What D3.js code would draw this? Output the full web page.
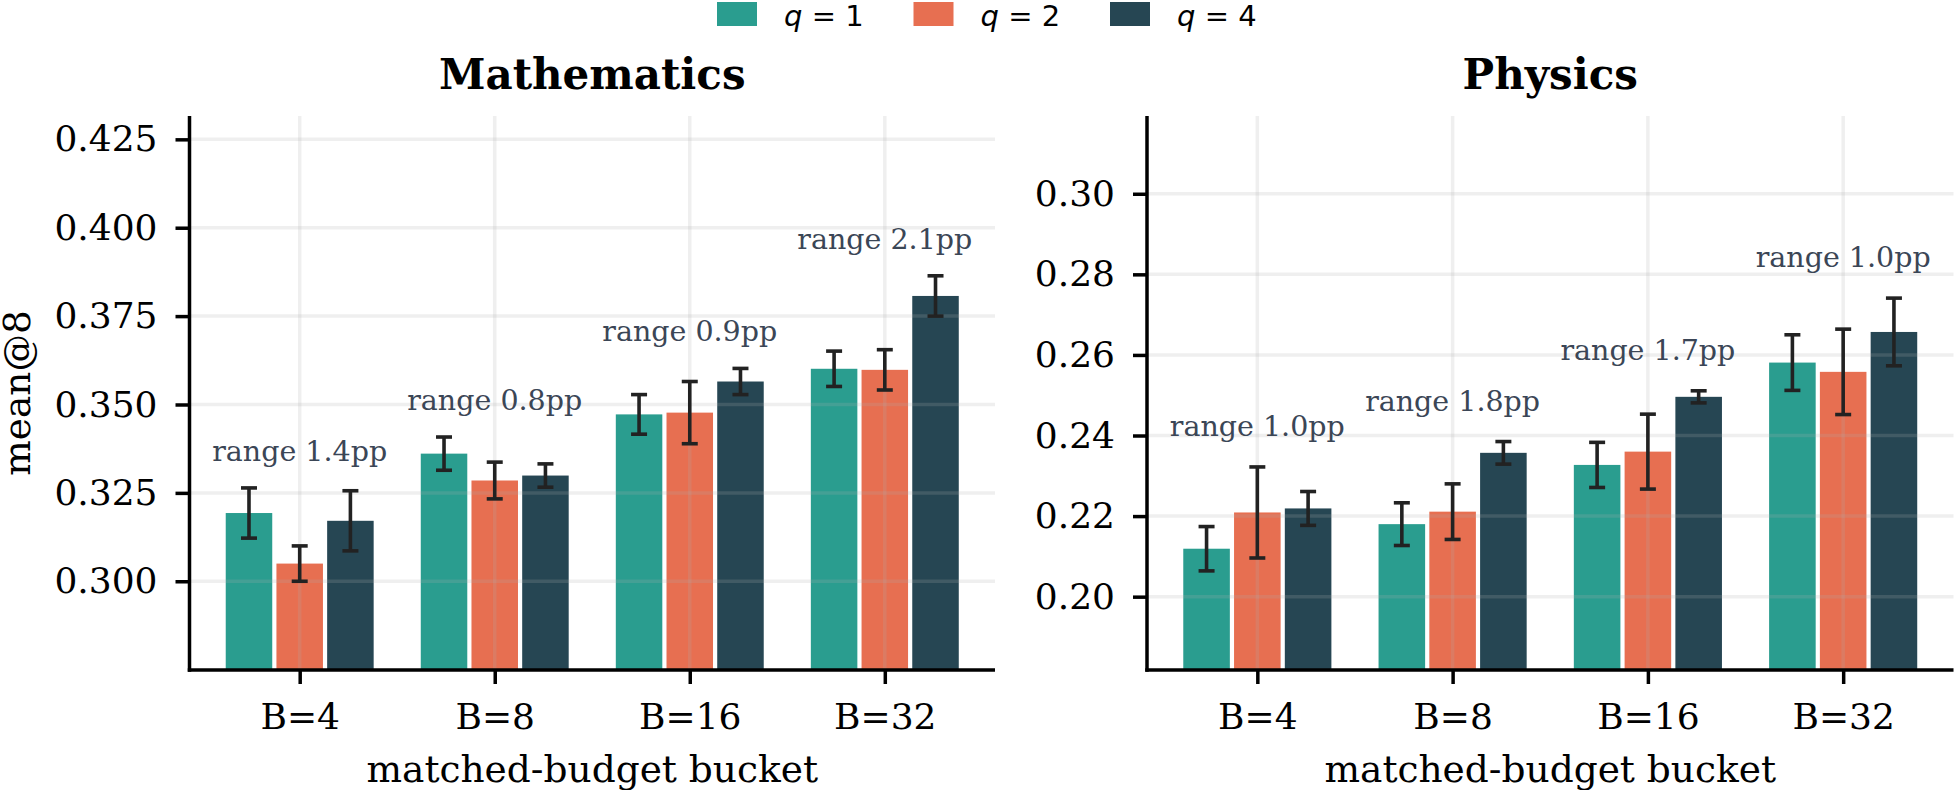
<!DOCTYPE html>
<html>
<head>
<meta charset="utf-8">
<script src="https://cdn.jsdelivr.net/npm/d3@7"></script>
<style>
  html, body { margin: 0; padding: 0; background: #ffffff; }
  svg { display: block; }
</style>
</head>
<body>
<svg id="chart" width="1955" height="790"></svg>
<script>
// ---------------- DATA ----------------
const categories = ["B=4", "B=8", "B=16", "B=32"];
const seriesKeys = ["1", "2", "4"];            // q values
const seriesColors = ["#2a9d8f", "#e76f51", "#264653"];

// Mathematics: mean@8 per q, and error half-widths
const mathQ1 = [0.3193, 0.3361, 0.3472, 0.3601];
const mathQ2 = [0.3050, 0.3285, 0.3477, 0.3598];
const mathQ4 = [0.3171, 0.3299, 0.3565, 0.3807];
const mathErrQ1 = [0.0071, 0.0047, 0.0056, 0.0050];
const mathErrQ2 = [0.0050, 0.0052, 0.0088, 0.0057];
const mathErrQ4 = [0.0085, 0.0033, 0.0037, 0.0057];
const mathRangeLabels = ["range 1.4pp", "range 0.8pp", "range 0.9pp", "range 2.1pp"];
const mathTicks = [0.300, 0.325, 0.350, 0.375, 0.400, 0.425];
const mathYDomain = [0.2749, 0.4316];

// Physics
const physQ1 = [0.2119, 0.2180, 0.2327, 0.2581];
const physQ2 = [0.2209, 0.2211, 0.2360, 0.2558];
const physQ4 = [0.2219, 0.2357, 0.2496, 0.2657];
const physErrQ1 = [0.0055, 0.0053, 0.0056, 0.0069];
const physErrQ2 = [0.0113, 0.0069, 0.0093, 0.0106];
const physErrQ4 = [0.0042, 0.0028, 0.0015, 0.0084];
const physRangeLabels = ["range 1.0pp", "range 1.8pp", "range 1.7pp", "range 1.0pp"];
const physTicks = [0.20, 0.22, 0.24, 0.26, 0.28, 0.30];
const physYDomain = [0.1818, 0.3193];

const xDomain = [-0.565, 3.565];
const barOffsets = [-0.26, 0, 0.26];
const barWidth = 0.26;

// ---------------- DRAW ----------------
const svg = d3.select("#chart");
const serif = "'DejaVu Serif', serif";
const sans = "'DejaVu Sans', sans-serif";

const panels = [
  { title: "Mathematics", x0: 189.5, x1: 995, means: [mathQ1, mathQ2, mathQ4],
    errs: [mathErrQ1, mathErrQ2, mathErrQ4], labels: mathRangeLabels,
    ticks: mathTicks, yDomain: mathYDomain, fmt: d3.format(".3f"), ylabel: "mean@8" },
  { title: "Physics", x0: 1147, x1: 1953.5, means: [physQ1, physQ2, physQ4],
    errs: [physErrQ1, physErrQ2, physErrQ4], labels: physRangeLabels,
    ticks: physTicks, yDomain: physYDomain, fmt: d3.format(".2f"), ylabel: null }
];

const yTop = 116, yBot = 670;

panels.forEach(p => {
  const x = d3.scaleLinear().domain(xDomain).range([p.x0, p.x1]);
  const y = d3.scaleLinear().domain(p.yDomain).range([yBot, yTop]);
  const g = svg.append("g");

  // bars
  const inset = 2.1;
  p.means.forEach((arr, si) => {
    g.selectAll(null).data(arr).enter().append("rect")
      .attr("x", (d, i) => x(i + barOffsets[si] - barWidth / 2) + inset)
      .attr("width", x(barWidth) - x(0) - 2 * inset)
      .attr("y", d => y(d))
      .attr("height", d => yBot - y(d))
      .attr("fill", seriesColors[si]);
  });

  // grid (drawn over bars, translucent)
  const grid = g.append("g").attr("stroke", "#b0b0b0").attr("stroke-opacity", 0.2).attr("stroke-width", 3.5);
  grid.selectAll(null).data(p.ticks).enter().append("line")
    .attr("x1", p.x0).attr("x2", p.x1)
    .attr("y1", d => y(d)).attr("y2", d => y(d));
  grid.selectAll(null).data(categories).enter().append("line")
    .attr("x1", (d, i) => x(i)).attr("x2", (d, i) => x(i))
    .attr("y1", yTop).attr("y2", yBot);

  // error bars
  const eb = g.append("g").attr("stroke", "#222222").attr("stroke-width", 3.6).attr("fill", "none");
  const cap = 8;
  p.means.forEach((arr, si) => {
    arr.forEach((m, i) => {
      const e = p.errs[si][i];
      const cx = x(i + barOffsets[si]);
      eb.append("line").attr("x1", cx).attr("x2", cx).attr("y1", y(m - e)).attr("y2", y(m + e));
      eb.append("line").attr("x1", cx - cap).attr("x2", cx + cap).attr("y1", y(m + e)).attr("y2", y(m + e));
      eb.append("line").attr("x1", cx - cap).attr("x2", cx + cap).attr("y1", y(m - e)).attr("y2", y(m - e));
    });
  });

  // range annotations
  categories.forEach((c, i) => {
    const top = d3.max(p.means.map((arr, si) => arr[i] + p.errs[si][i]));
    g.append("text")
      .attr("x", x(i)).attr("y", y(top + 0.0077))
      .attr("text-anchor", "middle")
      .attr("font-family", serif).attr("font-size", 28.5)
      .attr("fill", "#3b4656")
      .text(p.labels[i]);
  });

  // axes
  const yAxis = d3.axisLeft(y).tickValues(p.ticks).tickFormat(p.fmt).tickSize(14).tickSizeOuter(0).tickPadding(18);
  const ya = g.append("g").attr("transform", `translate(${p.x0},0)`).call(yAxis);
  const xAxis = d3.axisBottom(x).tickValues(d3.range(categories.length)).tickFormat(i => categories[i])
    .tickSize(14).tickSizeOuter(0).tickPadding(19);
  const xa = g.append("g").attr("transform", `translate(0,${yBot})`).call(xAxis);
  [ya, xa].forEach(a => {
    a.select(".domain").attr("stroke", "#000").attr("stroke-width", 3.5);
    a.selectAll(".tick line").attr("stroke", "#000").attr("stroke-width", 3.5);
    a.selectAll(".tick text").attr("fill", "#000").attr("font-family", serif).attr("font-size", 36);
  });
  // make domain paths cover the exact plot extents
  ya.select(".domain").attr("d", `M0,${yBot + 1.75}V${yTop}`);
  xa.select(".domain").attr("d", `M${p.x0 - 1.75},0H${p.x1}`);

  // titles & labels
  g.append("text").attr("x", (p.x0 + p.x1) / 2).attr("y", 89)
    .attr("text-anchor", "middle").attr("font-family", serif).attr("font-weight", "bold")
    .attr("font-size", 42).attr("fill", "#000").text(p.title);
  g.append("text").attr("x", (p.x0 + p.x1) / 2).attr("y", 782)
    .attr("text-anchor", "middle").attr("font-family", serif)
    .attr("font-size", 37.5).attr("fill", "#000").text("matched-budget bucket");
  if (p.ylabel) {
    g.append("text").attr("transform", `translate(30,${(yTop + yBot) / 2}) rotate(-90)`)
      .attr("text-anchor", "middle").attr("font-family", serif)
      .attr("font-size", 37.5).attr("fill", "#000").text(p.ylabel);
  }
});

// legend
const legendX = [717, 913.5, 1110];
const leg = svg.append("g");
seriesKeys.forEach((k, i) => {
  leg.append("rect").attr("x", legendX[i]).attr("y", 2).attr("width", 40).attr("height", 24)
    .attr("fill", seriesColors[i]);
  const t = leg.append("text").attr("x", legendX[i] + 67).attr("y", 26)
    .attr("font-family", sans).attr("font-size", 29).attr("fill", "#000");
  t.append("tspan").attr("font-style", "italic").text("q");
  t.append("tspan").text(" = " + k);
});
</script>
</body>
</html>
